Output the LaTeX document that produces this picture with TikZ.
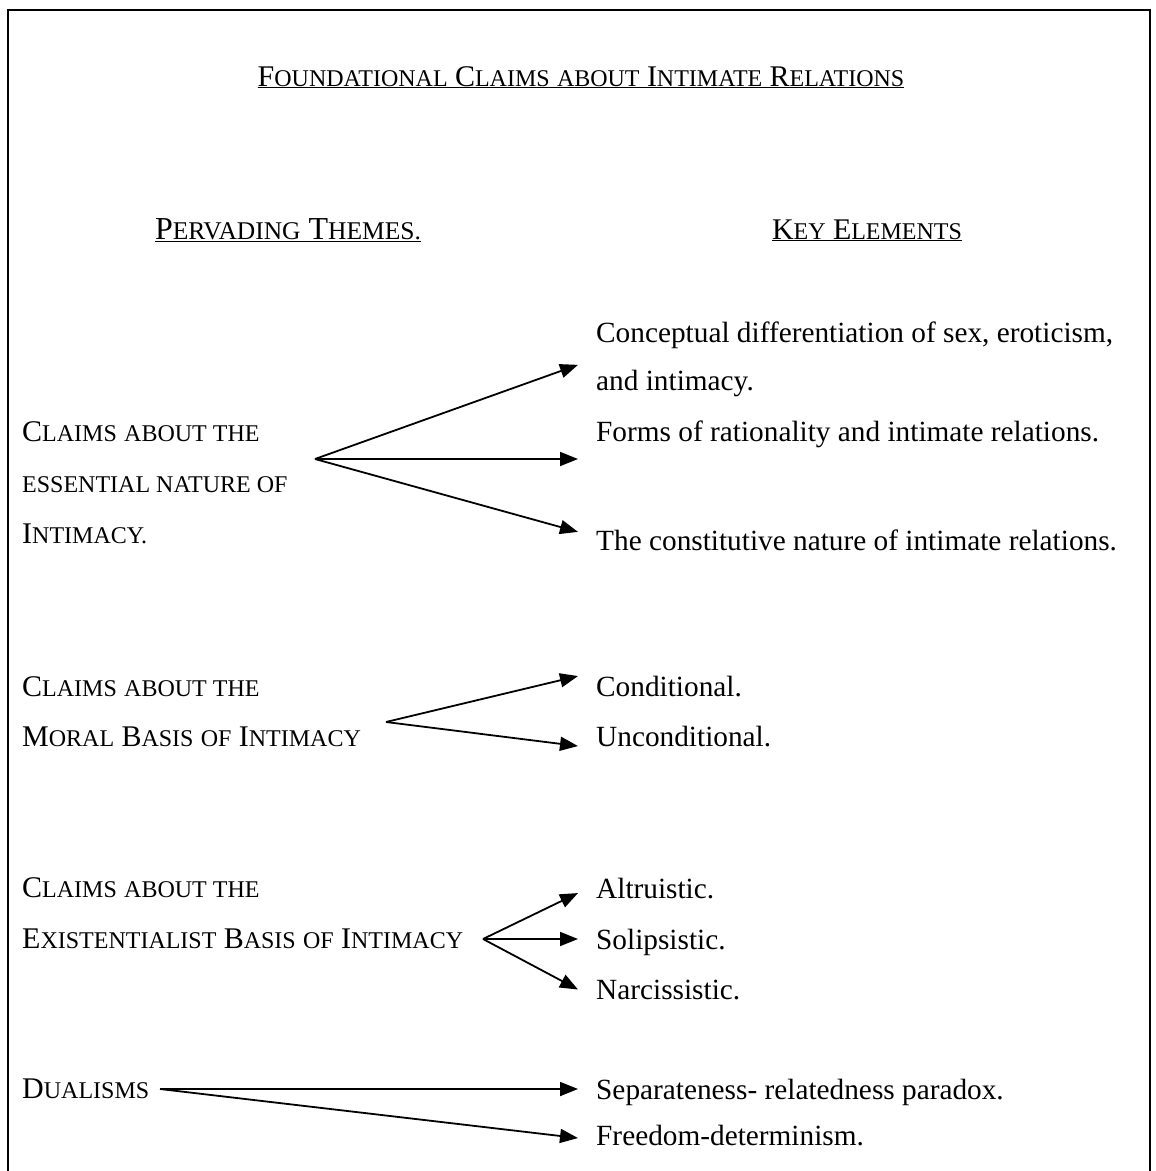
\documentclass[tikz,border=0pt]{standalone}
\usepackage{fontspec}
\setmainfont{Liberation Serif}
\usetikzlibrary{arrows.meta}
% fake small capitals: capitals full size, lower-case letters as reduced capitals
\newcommand\bigcapsize{\fontsize{30}{30}\selectfont}
\newcommand\smallcapsize{\fontsize{24}{24}\selectfont}
\newcommand\scw[2]{{\bigcapsize #1}{\smallcapsize #2}}
\newcommand\scs[1]{{\smallcapsize #1}}
\begin{document}
\begin{tikzpicture}[x=1pt,y=-1pt,
  body/.style={font=\fontsize{29.3}{48}\selectfont, inner sep=0pt, anchor=base west},
  item/.style={body, inner xsep=18pt, align=left},
  lbl/.style={body},
  heading/.style={body, anchor=base},
  conn/.style={line width=1.8pt, -{Triangle[length=18pt,width=14pt]}},
  frame/.style={line width=1.4pt}
]
\useasboundingbox (0,0) rectangle (1156,1171);
\draw[frame] (8,1171) -- (8,10) -- (1150,10) -- (1150,1171);

% title and column headings
\node[heading] (title) at (581,86) {\underline{\scw{F}{OUNDATIONAL} \scw{C}{LAIMS} \scs{ABOUT} \scw{I}{NTIMATE} \scw{R}{ELATIONS}}};
\node[heading, font=\fontsize{32}{32}\selectfont] (themes) at (288,239)
  {\underline{{\fontsize{32}{32}\selectfont P}{\fontsize{25.5}{25.5}\selectfont ERVADING} {\fontsize{32}{32}\selectfont T}{\fontsize{25.5}{25.5}\selectfont HEMES.}}};
\node[heading] (keys) at (867,239) {\underline{\scw{K}{EY} \scw{E}{LEMENTS}}};

% essential nature
\node[lbl] (ess1) at (22,441) {\scw{C}{LAIMS} \scs{ABOUT THE}};
\node[lbl] (ess2) at (22,492) {\scs{ESSENTIAL NATURE OF}};
\node[lbl] (ess3) at (22,543) {\scw{I}{NTIMACY.}};
\node[item] (concept) at (578,390) {Conceptual differentiation of sex, eroticism,\\and intimacy.};
\node[item] (forms) at (578,441) {Forms of rationality and intimate relations.};
\node[item] (constit) at (578,550) {The constitutive nature of intimate relations.};
\coordinate (o1) at (315,459);
\draw[conn] (o1) -- ([yshift=-6pt]concept.west);
\draw[conn] (o1) -- (forms.west |- o1);
\draw[conn] (o1) -- ([yshift=8pt]constit.west);

% moral basis
\node[lbl] (mor1) at (22,696) {\scw{C}{LAIMS} \scs{ABOUT THE}};
\node[lbl] (mor2) at (22,746) {\scw{M}{ORAL} \scw{B}{ASIS} \scs{OF} \scw{I}{NTIMACY}};
\node[item] (cond) at (578,696) {Conditional.};
\node[item] (uncond) at (578,746) {Unconditional.};
\coordinate (o2) at (386,722);
\draw[conn] (o2) -- ([yshift=10pt]cond.west);
\draw[conn] (o2) -- ([yshift=-10pt]uncond.west);

% existentialist basis
\node[lbl] (ex1) at (22,897) {\scw{C}{LAIMS} \scs{ABOUT THE}};
\node[lbl] (ex2) at (22,948) {\scw{E}{XISTENTIALIST} \scw{B}{ASIS} \scs{OF} \scw{I}{NTIMACY}};
\node[item] (altr) at (578,898) {Altruistic.};
\node[item] (solip) at (578,949) {Solipsistic.};
\node[item] (narc) at (578,999) {Narcissistic.};
\coordinate (o3) at (483,939);
\draw[conn] (o3) -- ([yshift=-5pt]altr.west);
\draw[conn] (o3) -- (solip.west |- o3);
\draw[conn] (o3) -- ([yshift=0pt]narc.west);

% dualisms
\node[lbl] (dual) at (22,1098) {\scw{D}{UALISMS}};
\node[item] (sep) at (578,1099) {Separateness- relatedness paradox.};
\node[item] (free) at (578,1145) {Freedom-determinism.};
\coordinate (o4) at (160,1089);
\draw[conn] (o4) -- (sep.west |- o4);
\draw[conn] (o4) -- ([yshift=-3pt]free.west);
\end{tikzpicture}
\end{document}
